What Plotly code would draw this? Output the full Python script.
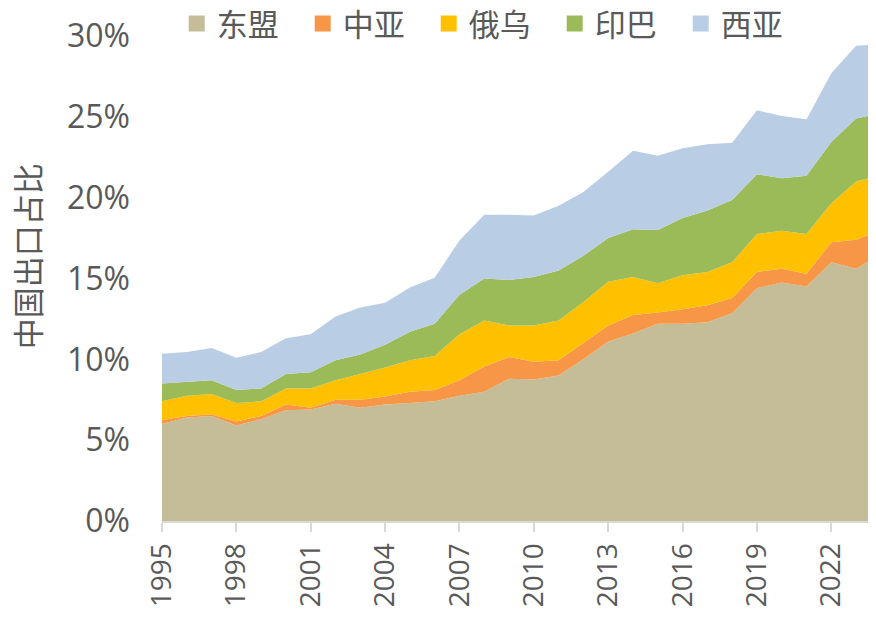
import plotly.graph_objects as go

years = list(range(1995, 2025))
asean = [6.0, 6.4, 6.5, 5.9, 6.3, 6.85, 6.9, 7.25, 7.0, 7.2, 7.3, 7.4, 7.75, 8.0, 8.8, 8.75, 9.0, 10.0, 11.1, 11.6,
         12.2, 12.2, 12.3, 12.85, 14.4, 14.75, 14.5, 16.0, 15.6, 16.5]
central_asia = [0.25, 0.1, 0.1, 0.25, 0.2, 0.35, 0.1, 0.25, 0.5, 0.5, 0.7, 0.7, 0.95, 1.55, 1.35, 1.1, 0.95, 1.0, 1.0, 1.15,
                0.7, 0.9, 1.05, 0.95, 1.0, 0.85, 0.8, 1.25, 1.8, 1.5]
russia_ukraine = [1.15, 1.25, 1.25, 1.15, 0.9, 1.0, 1.2, 1.2, 1.6, 1.8, 1.95, 2.1, 2.85, 2.85, 1.95, 2.25, 2.45, 2.55, 2.7, 2.35,
                  1.8, 2.1, 2.05, 2.2, 2.35, 2.35, 2.45, 2.4, 3.6, 3.4]
india_pakistan = [1.1, 0.85, 0.85, 0.8, 0.8, 0.9, 1.0, 1.25, 1.2, 1.4, 1.75, 2.0, 2.45, 2.6, 2.8, 3.0, 3.1, 2.85, 2.7, 2.95,
                  3.3, 3.55, 3.8, 3.85, 3.7, 3.25, 3.6, 3.8, 3.9, 3.8]
west_asia = [1.85, 1.85, 2.0, 2.0, 2.25, 2.2, 2.35, 2.7, 2.9, 2.6, 2.75, 2.85, 3.35, 3.95, 4.05, 3.8, 4.0, 3.95, 4.1, 4.85,
             4.6, 4.3, 4.1, 3.55, 3.95, 3.85, 3.5, 4.25, 4.5, 4.3]

series_names = ["东盟", "中亚", "俄乌", "印巴", "西亚"]
series_values = [asean, central_asia, russia_ukraine, india_pakistan, west_asia]
colors = ["#C4BD97", "#F79646", "#FFC000", "#9BBB59", "#B9CDE5"]

x_ticks = list(range(1995, 2023, 3))
y_ticks = list(range(0, 31, 5))

FONT = "Open Sans, Noto Sans CJK SC, sans-serif"
GRAY = "#595959"

fig = go.Figure()
for name, vals, c in zip(series_names, series_values, colors):
    fig.add_trace(go.Scatter(
        x=years, y=vals, name=name, mode="lines", stackgroup="one",
        line=dict(width=0, color=c), fillcolor=c, showlegend=False,
        hoverinfo="skip",
    ))
for name, c in zip(series_names, colors):
    fig.add_trace(go.Scatter(
        x=[None], y=[None], name=name, mode="markers",
        marker=dict(symbol="square", size=19, color=c), showlegend=True,
    ))

fig.update_layout(
    width=860, height=605,
    margin=dict(l=154, r=0, t=28, b=92, autoexpand=False),
    plot_bgcolor="white", paper_bgcolor="white",
    font=dict(family=FONT, color=GRAY, size=30),
    legend=dict(
        orientation="h", x=0.467, xanchor="center", y=1.025, yanchor="middle",
        font=dict(family=FONT, size=31, color=GRAY),
        entrywidth=81, entrywidthmode="pixels", traceorder="normal",
        bgcolor="rgba(0,0,0,0)", itemclick=False,
    ),
    xaxis=dict(
        range=[1995, 2023.48], tickmode="array", tickvals=x_ticks,
        ticktext=[str(v) for v in x_ticks], tickangle=-90,
        showgrid=False, zeroline=False, showline=True, linecolor="#D9D9D9", linewidth=2,
        ticks="outside", ticklen=9, tickwidth=2, tickcolor="#D9D9D9",
        tickfont=dict(family=FONT, size=28, color=GRAY),
    ),
    yaxis=dict(
        range=[0, 30], tickmode="array", tickvals=y_ticks,
        ticktext=[f"{v}%" for v in y_ticks],
        showgrid=False, zeroline=False, showline=False, ticks="",
        ticklabelstandoff=31,
        tickfont=dict(family=FONT, size=32, color=GRAY),
    ),
    annotations=[dict(
        text="中国出口占比", textangle=-90, xref="paper", yref="paper",
        x=-0.1926, y=0.546, xanchor="center", yanchor="middle", showarrow=False,
        font=dict(family="Noto Sans CJK SC, sans-serif", size=31, color=GRAY),
    )],
)

fig.write_html("out.html")
